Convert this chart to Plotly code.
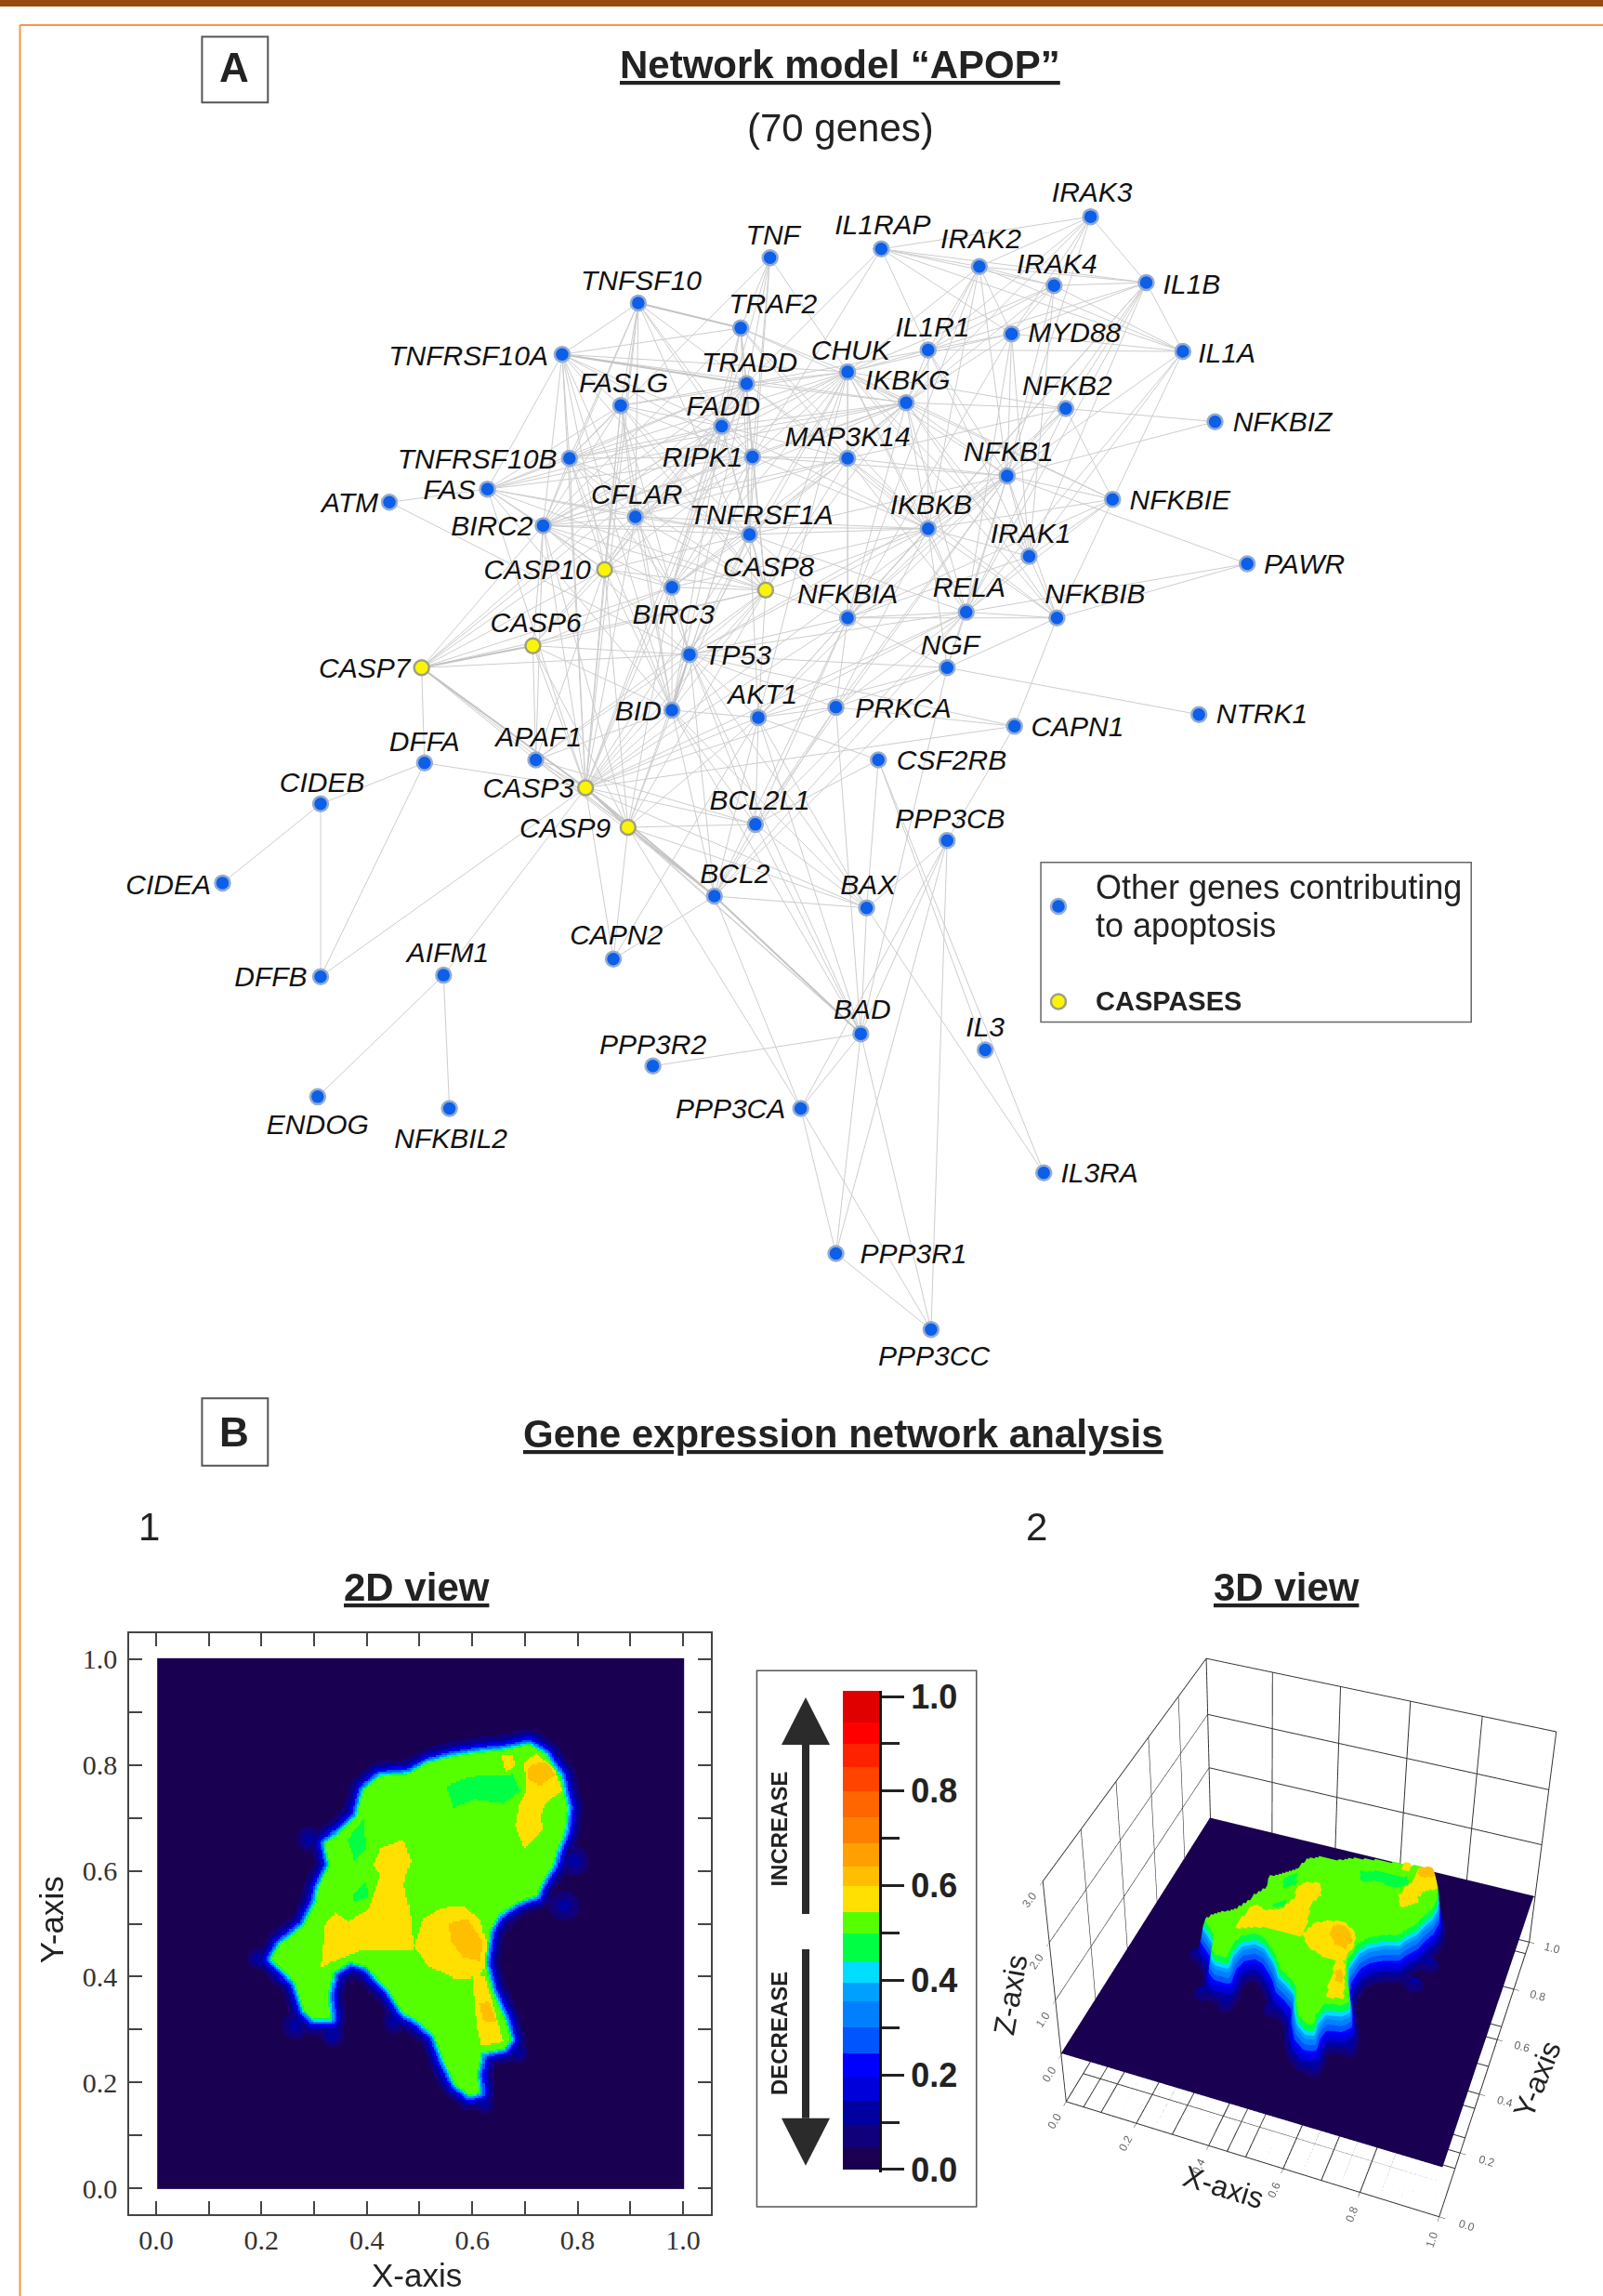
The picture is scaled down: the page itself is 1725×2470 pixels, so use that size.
import numpy as np
import plotly.graph_objects as go

# ---------- Panel A: gene network (positions, 1095x1568 frame) ----------
GENES = ["IRAK3","IL1RAP","TNF","IRAK2","IRAK4","IL1B","TNFSF10","TRAF2","IL1R1","MYD88","IL1A","TNFRSF10A",
 "TRADD","CHUK","IKBKG","FASLG","NFKB2","FADD","NFKBIZ","TNFRSF10B","RIPK1","MAP3K14","NFKB1","FAS","ATM",
 "NFKBIE","CFLAR","BIRC2","TNFRSF1A","IKBKB","IRAK1","PAWR","CASP10","BIRC3","CASP8","NFKBIA","RELA","NFKBIB",
 "CASP6","TP53","CASP7","NGF","BID","AKT1","PRKCA","NTRK1","CAPN1","DFFA","APAF1","CSF2RB","CASP3","CIDEB",
 "BCL2L1","CASP9","PPP3CB","CIDEA","BCL2","BAX","CAPN2","AIFM1","DFFB","BAD","IL3","PPP3R2","ENDOG","NFKBIL2",
 "PPP3CA","IL3RA","PPP3R1","PPP3CC"]
NODE_X = [745,602,526,669,720,783,436,506,634,691,808,384,510,579,619,424,728,493,830,389,514,579,688,333,266,
 760,434,371,512,634,703,852,413,459,523,579,660,722,364,471,288,647,459,518,571,819,693,290,366,600,400,219,
 516,429,647,152,488,592,419,303,219,588,673,446,217,307,547,713,571,636]
NODE_Y = [148,170,176,182,195,193,207,224,239,228,240,242,262,254,275,277,279,291,288,313,312,313,325,334,343,
 341,353,359,365,361,380,385,389,401,403,422,418,422,441,447,456,456,485,490,483,488,496,521,519,519,538,549,
 563,565,574,603,612,620,655,666,667,706,717,728,749,757,757,801,856,908]
LABEL_X = [746,603,528,670,722,814,438,528,637,734,838,320,512,581,620,426,729,494,876,326,480,579,689,307,239,
 806,435,336,520,636,704,891,367,460,525,579,662,748,366,504,249,649,436,521,617,862,736,290,368,650,361,220,
 519,386,649,115,502,593,421,306,185,589,673,446,217,308,499,751,624,638]
LABEL_Y = [133,155,162,165,182,196,193,209,225,229,243,245,249,241,261,263,265,279,290,315,314,300,310,336,345,
 343,339,361,353,346,366,387,391,421,389,407,403,407,427,449,458,442,487,476,485,489,498,508,505,521,540,536,
 548,567,561,606,598,606,640,652,669,691,703,715,770,779,759,803,858,928]
CASPASES = ["CASP3","CASP6","CASP7","CASP8","CASP9","CASP10"]

EDGES = {
 "TNF":"TRAF2 TRADD RIPK1 FADD TNFRSF1A CHUK TNFRSF10B",
 "IL1RAP":"IRAK2 IRAK4 IRAK3 IL1B IL1A IL1R1 MYD88 TRADD RIPK1",
 "IRAK3":"IRAK2 IRAK4 IL1B MYD88 IL1R1 IKBKG NFKB1",
 "IRAK2":"IRAK4 IL1B IL1A IL1R1 MYD88 IKBKG NFKB1 NFKBIA IKBKB CHUK",
 "IRAK4":"IL1B IL1A IL1R1 MYD88 IKBKG NFKB1 IRAK1 CHUK",
 "IL1B":"IL1A IL1R1 MYD88 NFKB1 IRAK1 NFKBIA RELA NFKB2 IKBKB",
 "IL1A":"IL1R1 MYD88 IRAK1 NFKB1 RELA NFKBIB",
 "IL1R1":"MYD88 CHUK IKBKG IRAK1 IKBKB NFKB1 TRADD",
 "MYD88":"CHUK IKBKG IRAK1 NFKB1 NFKBIA RELA",
 "NFKBIZ":"NFKB2 NFKB1",
 "NFKB2":"IKBKG CHUK IKBKB NFKB1 NFKBIE NFKBIA RELA MAP3K14",
 "NFKBIE":"NFKB1 IKBKB IKBKG CHUK RELA NFKBIA IRAK1",
 "PAWR":"NFKB1 RELA NFKBIB",
 "NFKB1":"CHUK IKBKG IKBKB MAP3K14 RELA NFKBIA NFKBIB IRAK1 TNFRSF1A RIPK1 TP53 NGF AKT1 CASP3 BCL2L1 PRKCA",
 "IKBKB":"CHUK IKBKG MAP3K14 RELA NFKBIA NFKBIB IRAK1 TNFRSF1A RIPK1 TRADD BIRC2 BIRC3 CFLAR TP53 AKT1 CASP8 NGF PRKCA TRAF2 FADD",
 "IKBKG":"CHUK MAP3K14 RELA NFKBIA NFKBIB IRAK1 TRADD RIPK1 FADD TRAF2 TNFRSF1A CFLAR BIRC2 BIRC3 CASP8 TNFRSF10A TNFRSF10B FAS",
 "CHUK":"MAP3K14 RELA NFKBIA NFKBIB TRADD RIPK1 FADD TRAF2 TNFRSF1A CFLAR BIRC2 BIRC3 FASLG TNFRSF10A TNFRSF10B CASP8 AKT1 TP53 IRAK1",
 "MAP3K14":"TRADD RIPK1 TRAF2 FADD TNFRSF1A NFKBIA RELA NFKBIB CASP8 BIRC2 BIRC3 CFLAR",
 "TRAF2":"TRADD RIPK1 FADD TNFRSF1A BIRC2 BIRC3 CASP8 TNFSF10 TNFRSF10A",
 "TRADD":"RIPK1 FADD TNFRSF1A TNFSF10 TNFRSF10A TNFRSF10B FASLG FAS CASP8 CASP10 CFLAR BIRC2 BIRC3 CASP3 CASP7 BID",
 "FADD":"RIPK1 TNFRSF1A TNFSF10 TNFRSF10A TNFRSF10B FASLG FAS CASP8 CASP10 CFLAR BIRC2 BIRC3 CASP3 CASP6 CASP7 BID",
 "RIPK1":"TNFRSF1A TNFSF10 TNFRSF10A TNFRSF10B FASLG FAS CASP8 CASP10 CFLAR BIRC2 BIRC3 TP53 BID",
 "TNFSF10":"TNFRSF10A TNFRSF10B FASLG CFLAR CASP8 CASP10 CASP3 BIRC2",
 "TNFRSF10A":"TNFRSF10B FASLG CFLAR CASP8 CASP10 CASP3 BID BIRC2 FAS",
 "TNFRSF10B":"FASLG FAS CFLAR CASP8 CASP10 CASP3 BID BIRC2 BIRC3 TNFRSF1A",
 "FASLG":"FAS CFLAR CASP8 CASP10 CASP3 BID TNFRSF1A BIRC2 TP53",
 "FAS":"ATM BIRC2 CFLAR CASP8 CASP10 CASP3 TNFRSF1A BID",
 "ATM":"TP53",
 "CFLAR":"BIRC2 BIRC3 TNFRSF1A CASP8 CASP10 CASP3 CASP7 BID TP53",
 "BIRC2":"BIRC3 TNFRSF1A CASP10 CASP8 CASP3 CASP6 CASP7 CASP9 TP53 APAF1",
 "TNFRSF1A":"BIRC3 CASP8 CASP10 CASP3 NFKBIA RELA TP53 BID AKT1",
 "CASP10":"BIRC3 CASP8 CASP3 CASP6 CASP7 BID APAF1 CASP9",
 "BIRC3":"CASP8 CASP3 CASP6 CASP7 CASP9 TP53 BID",
 "CASP8":"TP53 BID CASP3 CASP6 CASP7 CASP9 NFKBIA APAF1 AKT1",
 "NFKBIA":"RELA NFKBIB TP53 NGF AKT1 PRKCA CASP3 BCL2L1 IRAK1 BCL2",
 "RELA":"NFKBIB IRAK1 TP53 NGF AKT1 BCL2L1 PRKCA BCL2 CASP3",
 "NFKBIB":"IRAK1 NGF CAPN1",
 "NGF":"TP53 AKT1 PRKCA NTRK1 BCL2 BAD",
 "TP53":"CASP6 CASP7 CASP3 CASP9 BID AKT1 PRKCA BCL2 BCL2L1 BAX BAD APAF1 CAPN1",
 "CASP6":"CASP7 CASP3 APAF1 CASP9 BID",
 "CASP7":"CASP3 CASP9 DFFA APAF1",
 "BID":"BAX BCL2 BCL2L1 CASP3 CASP9 APAF1 AKT1 BAD",
 "AKT1":"BAD BAX BCL2 BCL2L1 CASP3 CASP9 PRKCA CSF2RB CAPN2",
 "PRKCA":"BCL2 BCL2L1 CAPN1 BAD CASP3",
 "CAPN1":"CASP3 PPP3CB",
 "APAF1":"CASP3 CASP9 BCL2 BCL2L1",
 "CASP3":"CASP9 BCL2 BCL2L1 BAD BAX DFFA DFFB AIFM1 CAPN2",
 "CASP9":"BCL2 BCL2L1 BAD BAX CAPN2 PPP3CA",
 "BCL2L1":"BCL2 BAX BAD CSF2RB",
 "BCL2":"BAX BAD CAPN2 PPP3CA",
 "BAX":"BAD IL3RA",
 "CSF2RB":"IL3 IL3RA BAX",
 "PPP3CB":"BAD PPP3R1 PPP3CA PPP3CC BAX",
 "BAD":"PPP3CA PPP3R1 PPP3CC PPP3R2",
 "PPP3CA":"PPP3R1 PPP3CC",
 "PPP3R1":"PPP3CC",
 "CIDEB":"CIDEA DFFB DFFA",
 "DFFA":"DFFB",
 "AIFM1":"ENDOG NFKBIL2",
}
STRONG_EDGES = [("CASP3","CASP9"),("CASP3","BCL2"),("CASP9","BCL2"),("CASP7","CASP3"),("CASP7","CASP6"),
                ("BCL2","BAD"),("TP53","BID"),("TNFRSF10A","TRADD"),("TNFSF10","TRAF2")]

# ---------- Panel B: expression map outlines (crop pixels of its frame) ----------
MAP_X0, MAP_X1, MAP_Y0, MAP_Y1 = 330.0, 1441.0, 1325.0, 135.0
OUTLINE = [(1115,328),(1150,350),(1180,400),(1195,470),(1190,520),(1175,560),(1165,600),(1140,640),(1130,665),(1090,680),
 (1050,710),(1030,745),(1020,820),(1035,880),(1060,940),(1075,990),(1060,1010),(1015,1020),(1005,1070),(1010,1110),
 (990,1115),(960,1090),(935,1040),(915,980),(880,950),(850,930),(820,880),(770,825),(735,815),(700,840),(690,890),
 (695,945),(660,945),(640,925),(620,860),(570,810),(590,775),(640,735),(665,680),(670,650),(695,600),(685,550),
 (710,530),(750,490),(765,430),(800,400),(860,395),(900,370),(950,355),(1010,345),(1060,340)]
GLOW_SPOTS = [(650,540,32),(1210,590,38),(1190,690,38),(620,960,34),(700,980,30),(830,950,30),(1090,1020,28),(1020,1135,24),(540,810,26)]
PATCHES_TEAL = [[(940,420),(990,400),(1080,395),(1095,430),(1060,460),(1000,450),(955,470)],
 [(730,540),(765,495),(770,560),(745,590)],[(740,665),(770,635),(775,670),(745,680)]]
PATCHES_YELLOW = [[(675,830),(685,730),(705,705),(730,725),(775,700),(790,650),(800,620),(785,600),(800,560),(850,540),(865,590),
  (850,640),(858,680),(865,720),(870,790),(840,790),(760,790),(700,815)],
 [(870,780),(890,720),(930,695),(975,690),(1010,720),(1025,770),(1020,830),(1010,850),(960,855),(900,825)],
 [(995,850),(1020,850),(1040,920),(1060,995),(1015,1005),(1005,960)],
 [(1105,370),(1130,345),(1170,385),(1185,430),(1150,460),(1140,490),(1145,520),(1105,560),(1085,510),(1095,460),(1110,430)],
 [(1055,350),(1080,350),(1085,375),(1065,390)]]
PATCHES_ORANGE = [[(945,730),(985,720),(1018,770),(1012,815),(975,805),(950,770)],
 [(1115,375),(1150,365),(1172,395),(1140,420),(1112,405)],[(1010,910),(1030,905),(1045,950),(1020,950)]]
LEVEL_BG, LEVEL_GREEN, LEVEL_TEAL, LEVEL_YELLOW, LEVEL_ORANGE = 0.02, 0.52, 0.47, 0.57, 0.62

# colour key bands
BAND_EDGES = [0,.047,.095,.145,.195,.245,.3,.355,.395,.44,.5,.545,.6,.64,.69,.745,.8,.85,.9,.945,1.012]
BAND_COLORS = ["#1a0050","#10007a","#0000a0","#0000d8","#0000ff","#0055ff","#0080ff","#00a0ff","#00ddff","#00ff44",
 "#55ff00","#ffe000","#ffbf00","#ffa000","#ff8000","#ff6600","#ff4400","#ff2200","#ff0000","#e00000"]
KEY_TICKS = [0,.2,.4,.6,.8,1]
KEY_TEXT = ["0.0","0.2","0.4","0.6","0.8","1.0"]
MAP_TICKS = [0,.2,.4,.6,.8,1]
FLOOR_TICKS = [i/20 for i in range(21)]

W, H = 1725, 2470
SX = 1725/1095
INK = "#222222"
SANS = "Liberation Sans"

pos = {g:(x,y) for g,x,y in zip(GENES,NODE_X,NODE_Y)}

def seg_xy(pairs):
    xs, ys = [], []
    for a,b in pairs:
        xs += [pos[a][0],pos[b][0],None]
        ys += [pos[a][1],pos[b][1],None]
    return xs, ys

seen = set(); pairs = []
for a,txt in EDGES.items():
    for b in txt.split():
        k = frozenset((a,b))
        if k not in seen:
            seen.add(k); pairs.append((a,b))

def to_data(poly):
    p = np.array(poly,dtype=float)
    return (p[:,0]-MAP_X0)/(MAP_X1-MAP_X0), (p[:,1]-MAP_Y0)/(MAP_Y1-MAP_Y0)

N = 280
gx = np.linspace(0,1,N)
GX,GY = np.meshgrid(gx,gx)

def inside(poly):
    px_,py_ = to_data(poly)
    res = np.zeros(GX.shape,bool)
    j = len(px_)-1
    for i in range(len(px_)):
        cond = (py_[i]>GY)!=(py_[j]>GY)
        xint = (px_[j]-px_[i])*(GY-py_[i])/(py_[j]-py_[i]+1e-12)+px_[i]
        res ^= cond & (GX<xint)
        j = i
    return res

def dist_to(poly):
    px_,py_ = to_data(poly)
    d = np.full(GX.shape,9.0)
    j = len(px_)-1
    for i in range(len(px_)):
        ax,ay,bx,by = px_[j],py_[j],px_[i],py_[i]
        t = np.clip(((GX-ax)*(bx-ax)+(GY-ay)*(by-ay))/((bx-ax)**2+(by-ay)**2),0,1)
        d = np.minimum(d,np.hypot(GX-ax-t*(bx-ax),GY-ay-t*(by-ay)))
        j = i
    return d

inner = inside(OUTLINE)
d = dist_to(OUTLINE)
Z = np.interp(d,[0,.012,.022,.034],[.5,.2,.09,LEVEL_BG])
for sx,sy,r in GLOW_SPOTS:
    cx,cy = to_data([(sx,sy)])
    rr = r/(MAP_X1-MAP_X0)
    Z = np.maximum(Z,np.interp(np.hypot(GX-cx[0],GY-cy[0]),[0,rr*.6,rr],[.13,.08,LEVEL_BG]))
Z[inner] = LEVEL_GREEN
for polys,lv in [(PATCHES_TEAL,LEVEL_TEAL),(PATCHES_YELLOW,LEVEL_YELLOW),(PATCHES_ORANGE,LEVEL_ORANGE)]:
    for p in polys:
        Z[inside(p)&inner] = lv

edges01 = [min(e,1.0) for e in BAND_EDGES]
CS = []
for i,c in enumerate(BAND_COLORS):
    CS += [[edges01[i],c],[edges01[i+1],c]]

fig = go.Figure()
ex,ey = seg_xy(pairs)
fig.add_trace(go.Scatter(x=ex,y=ey,mode="lines",line=dict(color="#cdcdcd",width=1),hoverinfo="skip",showlegend=False))
ex,ey = seg_xy(STRONG_EDGES)
fig.add_trace(go.Scatter(x=ex,y=ey,mode="lines",line=dict(color="#c4c4c4",width=2),hoverinfo="skip",showlegend=False))
blue = [g not in CASPASES for g in GENES]
NODE_BLUE=dict(size=16,color="#0b5fe8",line=dict(color="#94abd0",width=2.5))
NODE_YEL=dict(size=16,color="#fbf600",line=dict(color="#a0a080",width=2.5))
for cond,mk in [(True,NODE_BLUE),(False,NODE_YEL)]:
    idx = [i for i,b in enumerate(blue) if b==cond]
    fig.add_trace(go.Scatter(x=[NODE_X[i] for i in idx],y=[NODE_Y[i] for i in idx],mode="markers",
        marker=mk,showlegend=False,text=[GENES[i] for i in idx]))
fig.add_trace(go.Scatter(x=LABEL_X,y=LABEL_Y,text=GENES,mode="text",showlegend=False,
    textfont=dict(family=SANS,size=30,color="#111111",style="italic")))
fig.add_trace(go.Scatter(x=[723],y=[619],mode="markers",marker=NODE_BLUE,showlegend=False))
fig.add_trace(go.Scatter(x=[723],y=[684],mode="markers",marker=NODE_YEL,showlegend=False))

fig.add_trace(go.Heatmap(x=np.linspace(.004,1,N),y=gx,z=Z,zmin=0,zmax=1,colorscale=CS,showscale=False,xaxis="x2",yaxis="y2",hoverinfo="skip"))
mids = [(a+b)/2 for a,b in zip(edges01[:-1],edges01[1:])]
fig.add_trace(go.Heatmap(x=[0,1],y=BAND_EDGES,z=[[m] for m in mids],zmin=0,zmax=1,colorscale=CS,showscale=False,xaxis="x3",yaxis="y3",hoverinfo="skip"))
step = 2
HEIGHT = 1.6
fig.add_trace(go.Surface(x=gx[::step],y=gx[::step],z=Z[::step,::step]*HEIGHT,surfacecolor=Z[::step,::step],cmin=0,cmax=1,colorscale=CS,
    showscale=False,lighting=dict(ambient=1,diffuse=0,specular=0,roughness=1,fresnel=0),scene="scene",hoverinfo="skip"))
fx,fy,fz = [],[],[]
ZFLOOR = -0.9
for t in FLOOR_TICKS:
    fx += [t,t,None,0,1,None]; fy += [0,1,None,t,t,None]; fz += [ZFLOOR,ZFLOOR,None,ZFLOOR,ZFLOOR,None]
fig.add_trace(go.Scatter3d(x=fx,y=fy,z=fz,mode="lines",line=dict(color="#333333",width=2),scene="scene",showlegend=False,hoverinfo="skip"))

def ann(x,y,t,size,color=INK,family=SANS,xanchor="center",**kw):
    return dict(x=x,y=y,xref="x",yref="y",text=t,showarrow=False,xanchor=xanchor,yanchor="middle",
                font=dict(family=family,size=size,color=color),**kw)
annotations = [
 ann(574,44,"<b><u>Network model “APOP”</u></b>",42),
 ann(574,87,"(70 genes)",42),
 ann(160,46,"<b>A</b>",44),
 ann(160,978,"<b>B</b>",44),
 ann(576,979,"<b><u>Gene expression network analysis</u></b>",42),
 ann(102,1043,"1",42), ann(708,1043,"2",42),
 ann(285,1084,"<b><u>2D view</u></b>",42),
 ann(879,1084,"<b><u>3D view</u></b>",42),
 ann(747,606,"Other genes contributing",36,xanchor="left"),
 ann(747,632,"to apoptosis",36,xanchor="left"),
 ann(747,684,"<b>CASPASES</b>",29,xanchor="left"),
 ann(532,1249,"<b>INCREASE</b>",24,textangle=-90),
 ann(532,1389,"<b>DECREASE</b>",24,textangle=-90),
 ann(285,1554,"X-axis",35),
 ann(35,1311,"Y-axis",35,textangle=-90),
 ann(836,1494,"X-axis",32,textangle=17),
 ann(1050,1420,"Y-axis",32,textangle=-68),
 ann(690,1362,"Z-axis",32,textangle=-80),
]

def rect(x0,y0,x1,y1,color="#555555",w=2):
    return dict(type="rect",xref="x",yref="y",x0=x0,y0=y0,x1=x1,y1=y1,line=dict(color=color,width=w),layer="above")
def px(v): return v/SX
shapes = [
 dict(type="rect",xref="paper",yref="paper",x0=0,x1=1,y0=1-7/H,y1=1,fillcolor="#974a10",line=dict(width=0)),
 dict(type="line",xref="paper",yref="paper",x0=21.5/W,x1=1,y0=1-27/H,y1=1-27/H,line=dict(color="#f79646",width=2)),
 dict(type="line",xref="paper",yref="paper",x0=21.5/W,x1=21.5/W,y0=0,y1=1-27/H,line=dict(color="#f79646",width=2)),
 rect(138,25,183,70), rect(138,955,183,1001),
 rect(711,589,1005,698,color="#666666",w=1.5),
 rect(517,1141,667,1507,color="#555555",w=1.5),
 dict(type="line",xref="x",yref="y",x0=px(867),x1=px(867),y0=px(1877),y1=px(2059),line=dict(color="#2b2b2b",width=8)),
 dict(type="line",xref="x",yref="y",x0=px(867),x1=px(867),y0=px(2097),y1=px(2279),line=dict(color="#2b2b2b",width=8)),
 dict(type="path",xref="x",yref="y",path=f"M {px(841)} {px(1877)} L {px(867)} {px(1826)} L {px(893)} {px(1877)} Z",fillcolor="#2b2b2b",line=dict(width=0)),
 dict(type="path",xref="x",yref="y",path=f"M {px(841)} {px(2279)} L {px(867)} {px(2330)} L {px(893)} {px(2279)} Z",fillcolor="#2b2b2b",line=dict(width=0)),
]

map_tick = dict(tickmode="array",tickvals=MAP_TICKS,ticktext=[f"{t:.1f}" for t in MAP_TICKS],ticks="inside",ticklen=14,tickwidth=1.5,tickcolor="#444",
    showgrid=False,zeroline=False,showline=True,linecolor="#444",linewidth=1.5,mirror="ticks",automargin=False,
    minor=dict(tickvals=[.1,.3,.5,.7,.9],ticks="inside",ticklen=14,tickwidth=1.5,tickcolor="#444",showgrid=False),
    tickfont=dict(family="Liberation Serif",size=30,color="#333"))
axis3d = dict(showbackground=False,showgrid=True,gridcolor="#333333",gridwidth=2,showline=True,linecolor="#333333",linewidth=2,
    mirror=True,zeroline=False,showspikes=False,ticks="outside",tickcolor="#444",tickfont=dict(family=SANS,size=12,color="#666"),title=dict(text=""))

fig.update_layout(
 width=W,height=H,autosize=False,margin=dict(l=0,r=0,t=0,b=0),paper_bgcolor="white",plot_bgcolor="rgba(0,0,0,0)",
 showlegend=False,annotations=annotations,shapes=shapes,
 xaxis=dict(domain=[0,1],range=[0,1095],visible=False,fixedrange=True,automargin=False),
 yaxis=dict(domain=[0,1],range=[1568,0],visible=False,fixedrange=True,automargin=False),
 xaxis2=dict(domain=[139/W,765/W],range=[-.051,1.053],anchor="y2",**map_tick),
 yaxis2=dict(domain=[1-2382/H,1-1757/H],range=[-.049,1.049],anchor="x2",ticklabelstandoff=5,**map_tick),
 xaxis3=dict(domain=[907/W,946/W],range=[0,1],anchor="y3",visible=False,automargin=False),
 yaxis3=dict(domain=[1-2337/H,1-1819/H],range=[-.006,1.012],anchor="x3",side="right",tickmode="array",tickvals=KEY_TICKS,ticktext=KEY_TEXT,
    ticks="outside",ticklen=24,tickwidth=3,tickcolor="#222",showline=True,linecolor="#111",linewidth=3,showgrid=False,zeroline=False,automargin=False,
    minor=dict(tickvals=[.1,.3,.5,.7,.9],ticks="outside",ticklen=19,tickwidth=3,tickcolor="#222",showgrid=False),
    tickfont=dict(family=SANS,size=36,color="#222",weight="bold")),
 scene=dict(domain=dict(x=[1000/W,1],y=[0,1-1093/H]),
    bgcolor="rgba(0,0,0,0)",aspectmode="manual",aspectratio=dict(x=1,y=1,z=.76),
    camera=dict(eye=dict(x=.935,y=-2.855,z=2.801),center=dict(x=-.116,y=-.043,z=.814),up=dict(x=0,y=0,z=1)),
    xaxis=dict(range=[0,1],tickvals=MAP_TICKS,ticktext=[f"{t:.1f}" for t in MAP_TICKS],**axis3d),
    yaxis=dict(range=[0,1],tickvals=MAP_TICKS,ticktext=[f"{t:.1f}" for t in MAP_TICKS],**axis3d),
    zaxis=dict(range=[ZFLOOR,3],tickvals=[0,1,2,3],ticktext=["0.0","1.0","2.0","3.0"],**axis3d)),
)
fig.write_html("out.html",post_script="document.body.style.margin='0';",config=dict(displayModeBar=False))
